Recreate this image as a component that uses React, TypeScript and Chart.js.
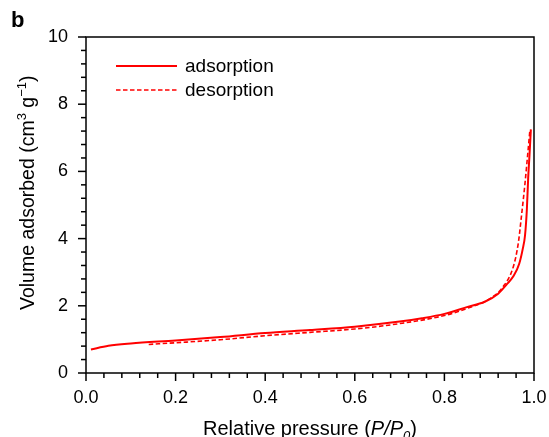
import React, { useEffect, useRef } from 'react';
import { Chart, registerables } from 'chart.js';

Chart.register(...registerables);

// ---- data ----
const adsP = [0.011, 0.05, 0.1, 0.2, 0.3, 0.4, 0.5, 0.6, 0.7, 0.75, 0.8, 0.85, 0.89, 0.92, 0.94, 0.955, 0.967, 0.975, 0.98, 0.984, 0.987, 0.99, 0.993];
const adsV = [0.70, 0.81, 0.88, 0.97, 1.07, 1.19, 1.28, 1.38, 1.53, 1.63, 1.76, 1.96, 2.12, 2.36, 2.65, 2.9, 3.25, 3.7, 4.1, 4.85, 5.8, 6.5, 7.25];
const desP = [0.14, 0.2, 0.3, 0.4, 0.5, 0.6, 0.7, 0.8, 0.85, 0.9, 0.93, 0.954, 0.965, 0.972, 0.98, 0.987, 0.991];
const desV = [0.85, 0.90, 0.99, 1.11, 1.21, 1.31, 1.47, 1.71, 1.92, 2.2, 2.55, 3.17, 3.87, 4.67, 5.66, 6.66, 7.25];

const seriesNames = ['adsorption', 'desorption'];
const panelLabel = 'b';
const xTitleParts = ['Relative pressure (', 'P/P', '0', ')'];
const yTitleParts = ['Volume adsorbed (cm', '3', ' g', '\u22121', ')'];
const xMin = 0, xMax = 1, xStep = 0.2, xMinor = 0.04;
const yMin = 0, yMax = 10, yStep = 2, yMinor = 0.4;

const FONT = '"Liberation Sans", Arial, sans-serif';
const RED = '#ff0000';

export default function App() {
  const ref = useRef<HTMLCanvasElement>(null);

  useEffect(() => {
    const decor = {
      id: 'decor',
      afterDraw(chart: any) {
        const { ctx, chartArea: a, scales } = chart;
        const x = scales.x, y = scales.y;
        ctx.save();
        // frame
        ctx.strokeStyle = '#000';
        ctx.lineWidth = 1.5;
        ctx.setLineDash([]);
        ctx.strokeRect(a.left, a.top, a.right - a.left, a.bottom - a.top);
        // x ticks
        ctx.lineWidth = 1.5;
        const nx = Math.round((xMax - xMin) / xMinor);
        for (let i = 0; i <= nx; i++) {
          const v = xMin + i * xMinor;
          const px = x.getPixelForValue(v);
          const major = i % Math.round(xStep / xMinor) === 0;
          ctx.beginPath();
          ctx.moveTo(px, a.bottom);
          ctx.lineTo(px, a.bottom + (major ? 8 : 5));
          ctx.stroke();
        }
        const ny = Math.round((yMax - yMin) / yMinor);
        for (let i = 0; i <= ny; i++) {
          const v = yMin + i * yMinor;
          const py = y.getPixelForValue(v);
          const major = i % Math.round(yStep / yMinor) === 0;
          ctx.beginPath();
          ctx.moveTo(a.left, py);
          ctx.lineTo(a.left - (major ? 8 : 5), py);
          ctx.stroke();
        }
        // legend
        ctx.font = `19px ${FONT}`;
        ctx.textBaseline = 'middle';
        ctx.textAlign = 'left';
        chart.data.datasets.forEach((ds: any, i: number) => {
          const ly = 66 + i * 24;
          ctx.strokeStyle = ds.borderColor;
          ctx.lineWidth = ds.borderWidth;
          ctx.setLineDash(ds.borderDash || []);
          ctx.beginPath();
          ctx.moveTo(116, ly);
          ctx.lineTo(177, ly);
          ctx.stroke();
          ctx.setLineDash([]);
          ctx.fillStyle = '#000';
          ctx.fillText(ds.label, 185, ly + 1);
        });
        // panel label
        ctx.font = `bold 22px ${FONT}`;
        ctx.textBaseline = 'alphabetic';
        ctx.fillStyle = '#000';
        ctx.fillText(panelLabel, 11, 27);
        // x title
        const big = `20px ${FONT}`;
        const bigI = `italic 20px ${FONT}`;
        const smallI = `italic 13px ${FONT}`;
        const segsX = [
          { t: xTitleParts[0], f: big, dy: 0 },
          { t: xTitleParts[1], f: bigI, dy: 0 },
          { t: xTitleParts[2], f: smallI, dy: 5 },
          { t: xTitleParts[3], f: big, dy: 0 },
        ];
        let w = 0;
        segsX.forEach(s => { ctx.font = s.f; w += ctx.measureText(s.t).width; });
        let cx = (a.left + a.right) / 2 - w / 2;
        const bx = 435;
        segsX.forEach(s => { ctx.font = s.f; ctx.fillText(s.t, cx, bx + s.dy); cx += ctx.measureText(s.t).width; });
        // y title
        const small = `13px ${FONT}`;
        const yBig = `19.5px ${FONT}`;
        const segsY = [
          { t: yTitleParts[0], f: yBig, dy: 0 },
          { t: yTitleParts[1], f: small, dy: -8 },
          { t: yTitleParts[2], f: yBig, dy: 0 },
          { t: yTitleParts[3], f: small, dy: -8 },
          { t: yTitleParts[4], f: yBig, dy: 0 },
        ];
        ctx.translate(34, 310);
        ctx.rotate(-Math.PI / 2);
        let cy = 0;
        segsY.forEach(s => { ctx.font = s.f; ctx.fillText(s.t, cy, s.dy); cy += ctx.measureText(s.t).width; });
        ctx.restore();
      },
    };

    const chart = new Chart(ref.current!, {
      type: 'scatter',
      data: {
        datasets: [
          {
            label: seriesNames[0],
            data: adsP.map((p, i) => ({ x: p, y: adsV[i] })),
            showLine: true,
            borderColor: RED,
            backgroundColor: RED,
            borderWidth: 2,
            pointRadius: 0,
            cubicInterpolationMode: 'monotone',
          },
          {
            label: seriesNames[1],
            data: desP.map((p, i) => ({ x: p, y: desV[i] })),
            showLine: true,
            borderColor: RED,
            backgroundColor: RED,
            borderWidth: 1.6,
            borderDash: [4.5, 2.5],
            pointRadius: 0,
            cubicInterpolationMode: 'monotone',
          },
        ],
      } as any,
      options: {
        animation: false,
        responsive: false,
        devicePixelRatio: 1,
        layout: { padding: { top: 37, right: 15, left: 0, bottom: 0 } },
        plugins: { legend: { display: false }, tooltip: { enabled: false } },
        scales: {
          x: {
            type: 'linear',
            min: xMin,
            max: xMax,
            grid: { display: false, drawTicks: false },
            border: { display: false },
            ticks: {
              stepSize: xStep,
              padding: 14,
              color: '#000',
              font: { family: FONT, size: 18 },
              callback: (v: any) => Number(v).toFixed(1),
              maxRotation: 0,
            },
            afterFit: (s: any) => { s.height = 64; s.paddingLeft = 0; s.paddingRight = 0; },
          },
          y: {
            type: 'linear',
            min: yMin,
            max: yMax,
            grid: { display: false, drawTicks: false },
            border: { display: false },
            ticks: {
              stepSize: yStep,
              padding: 18,
              color: '#000',
              font: { family: FONT, size: 18 },
              callback: (v: any) => String(v),
            },
            afterFit: (s: any) => { s.width = 86; s.paddingTop = 0; s.paddingBottom = 0; },
          },
        },
      } as any,
      plugins: [decor],
    });
    return () => chart.destroy();
  }, []);

  return (
    <div style={{ position: 'fixed', left: 0, top: 0, width: 549, height: 437, background: '#fff' }}>
      <canvas ref={ref} width={549} height={437} style={{ width: 549, height: 437 }} />
    </div>
  );
}
